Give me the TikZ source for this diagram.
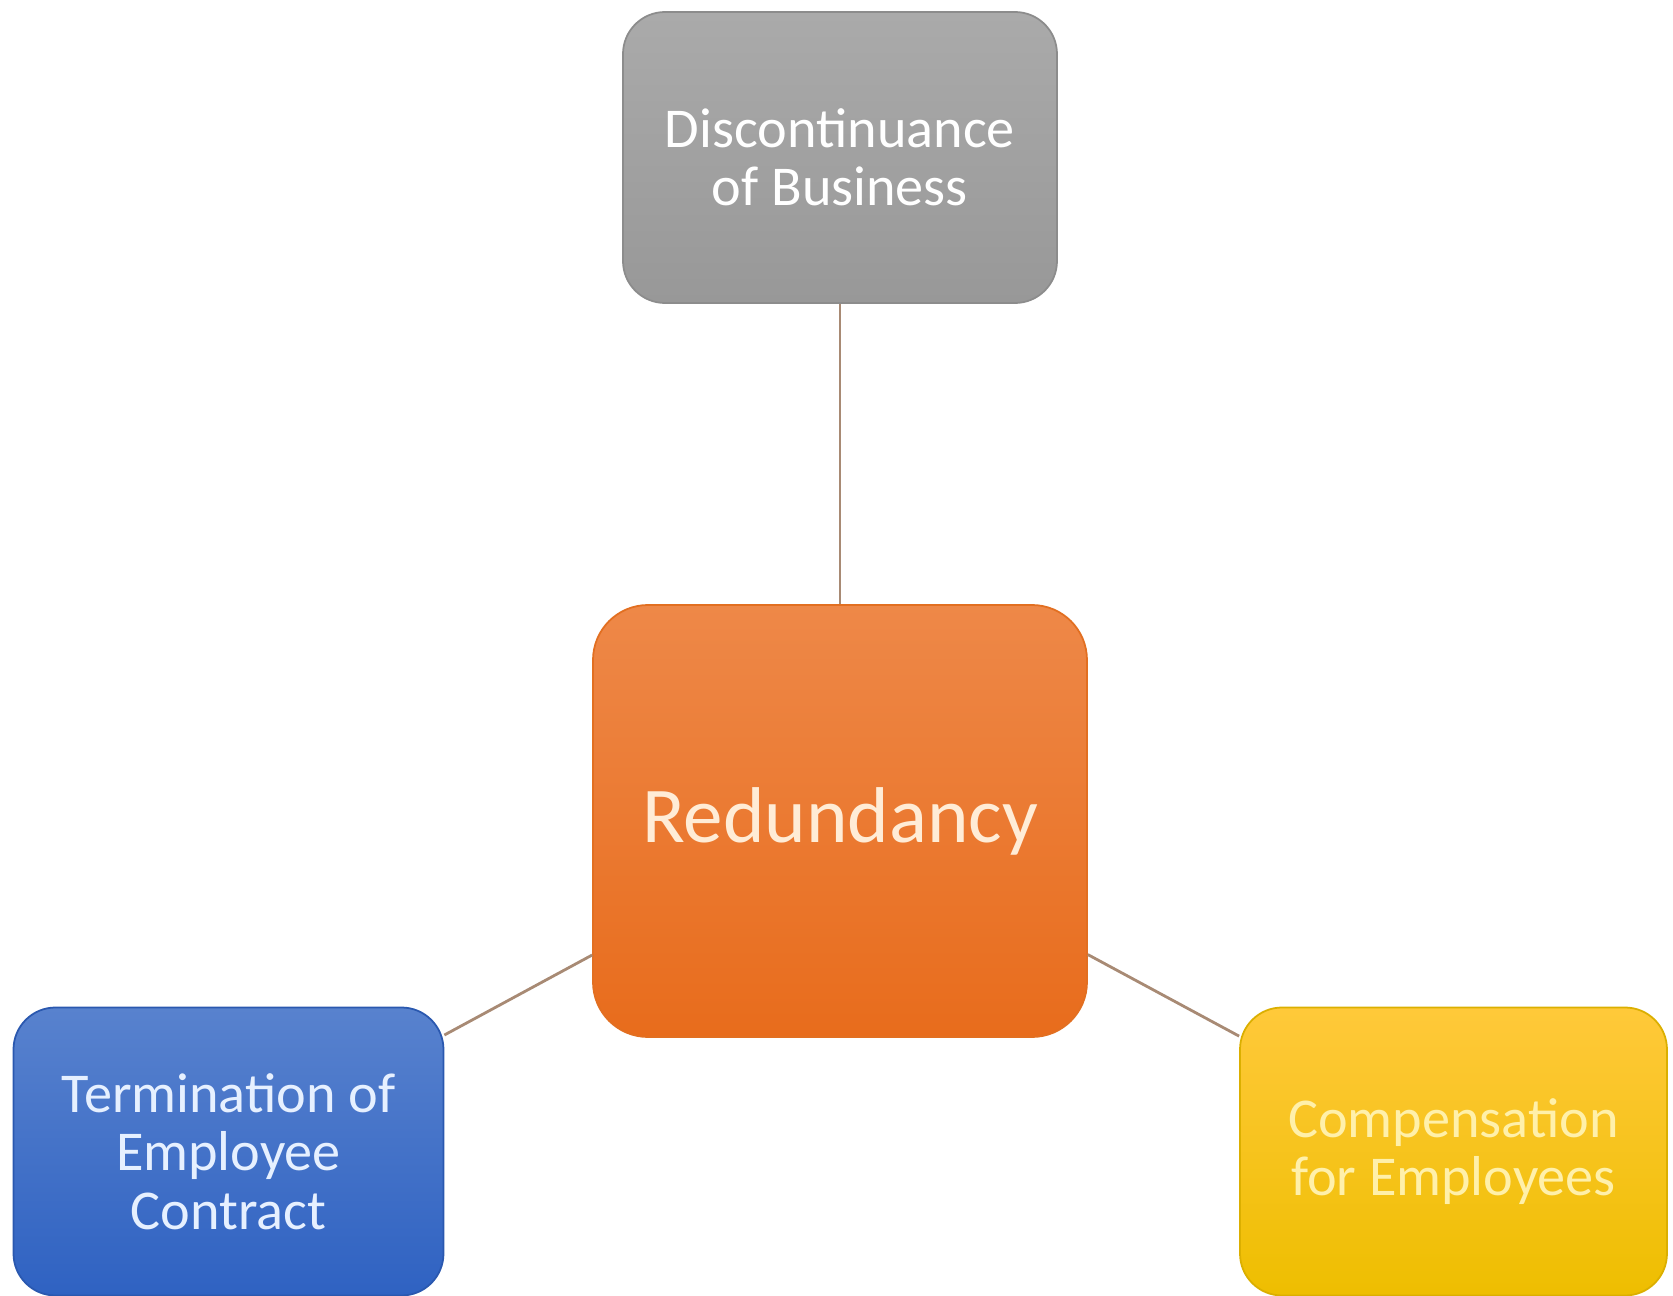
\documentclass[tikz,border=0pt]{standalone}
\usepackage{fontspec}
\setmainfont{Carlito}
\usetikzlibrary{calc}

\definecolor{grayTop}{HTML}{AAAAAA}
\definecolor{grayBot}{HTML}{989898}
\definecolor{orangeTop}{HTML}{EE8848}
\definecolor{orangeBot}{HTML}{E86C1C}
\definecolor{blueTop}{HTML}{5882CE}
\definecolor{blueBot}{HTML}{2F62C2}
\definecolor{yellowTop}{HTML}{FFC93A}
\definecolor{yellowBot}{HTML}{EEBE00}
\definecolor{linkcol}{HTML}{A88A74}

\tikzset{
  box/.style={rectangle, rounded corners=0.42cm, inner sep=0pt, align=center,
    line width=0.5pt},
  smallbox/.style={box, minimum width=4.3cm, minimum height=2.88cm,
    font=\fontsize{16}{16.6}\selectfont},
  link/.style={draw=linkcol, line width=0.8pt}
}

\begin{document}
\begin{tikzpicture}
    \useasboundingbox (0,0) rectangle (16.73,12.95);

    \node [smallbox, minimum width=4.34cm, minimum height=2.91cm,
      top color=grayTop, bottom color=grayBot, draw=grayBot!92!black,
      text=white] (business) at (8.40,11.375) {Discontinuance\\of Business};

    \node [box, minimum width=4.94cm, minimum height=4.32cm, rounded corners=0.55cm,
      top color=orangeTop, bottom color=orangeBot, draw=orangeBot!85!brown,
      text={rgb,255:red,255;green,236;blue,214},
      font=\fontsize{22.5}{25}\selectfont] (redundancy) at (8.40,4.74) {Redundancy};

    \node [smallbox, top color=blueTop, bottom color=blueBot, draw=blueBot!90!black,
      text={rgb,255:red,230;green,240;blue,255}] (contract) at (2.285,1.435)
      {Termination of\\Employee\\Contract};

    \node [smallbox, minimum width=4.27cm, top color=yellowTop, bottom color=yellowBot,
      draw=yellowBot!92!black, text={rgb,255:red,255;green,240;blue,170}]
      (compensation) at (14.535,1.435) {Compensation\\for Employees};

    \draw [link] (business) -- (redundancy);
    \draw [link] (redundancy) -- (contract);
    \draw [link] (redundancy) -- (compensation);
\end{tikzpicture}
\end{document}
